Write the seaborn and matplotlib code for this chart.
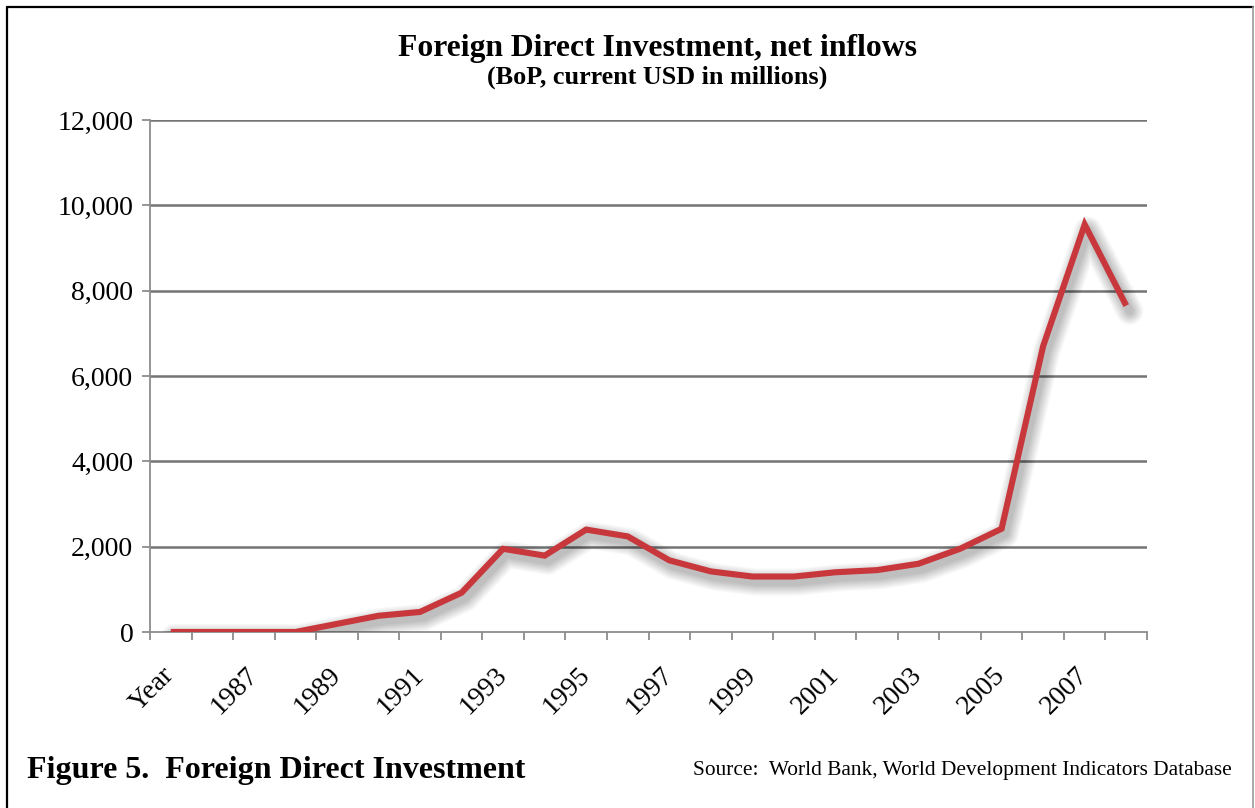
import numpy as np
import pandas as pd
import matplotlib
matplotlib.use("Agg")
import matplotlib.pyplot as plt
import matplotlib.patheffects as pe
from matplotlib.lines import Line2D
from matplotlib.ticker import FuncFormatter
import seaborn as sns

# Foreign direct investment, net inflows (BoP, current USD, millions)
categories = ["Year", "1986", "1987", "1988", "1989", "1990", "1991", "1992",
              "1993", "1994", "1995", "1996", "1997", "1998", "1999", "2000",
              "2001", "2002", "2003", "2004", "2005", "2006", "2007", "2008"]
fdi_millions = [0, 0, 0, 0, 190, 380, 470, 920,
                1950, 1790, 2400, 2240, 1680, 1420, 1300, 1300,
                1400, 1450, 1600, 1950, 2420, 6700, 9550, 7650]
y_ticks = [0, 2000, 4000, 6000, 8000, 10000, 12000]

df = pd.DataFrame({"year": categories, "fdi": fdi_millions})

sns.set_theme(style="white")
plt.rcParams["font.family"] = ["Liberation Serif", "DejaVu Serif"]
plt.rcParams["text.color"] = "black"
plt.rcParams["xtick.color"] = "black"
plt.rcParams["ytick.color"] = "black"

W, H = 1255, 808
fig = plt.figure(figsize=(W / 100, H / 100), dpi=100)
ax = fig.add_axes([150 / W, 1 - 632 / H, (1147 - 150) / W, (632 - 120) / H])

line_color = "#C8373B"
grid_color = "#747474"
axis_color = "#8c8c8c"

sns.lineplot(data=df, x="year", y="fdi", ax=ax, sort=False,
             color=line_color, linewidth=4.4, solid_joinstyle="miter",
             solid_capstyle="butt", zorder=5)

# soft drop shadow under the series line: many thin layers for a smooth falloff
widths = np.linspace(20, 5, 16)
shadow = [pe.SimpleLineShadow(offset=(2.5, -4), shadow_color="black",
                              alpha=0.016, linewidth=w,
                              capstyle="round", joinstyle="round")
          for w in widths]
for ln in ax.get_lines():
    ln.set_path_effects(shadow + [pe.Normal()])

ax.set_xlim(-0.5, len(categories) - 0.5)
ax.set_ylim(y_ticks[0], y_ticks[-1])
ax.set_yticks(y_ticks)
ax.yaxis.set_major_formatter(FuncFormatter(lambda v, _: f"{v:,.0f}"))

label_idx = list(range(0, len(categories), 2))
ax.set_xticks(label_idx)
ax.set_xticklabels([categories[i] for i in label_idx])
ax.set_xticks(np.arange(-0.5, len(categories), 1.0), minor=True)

ax.tick_params(axis="x", which="major", length=0, pad=28, labelsize=20,
               labelcolor="black")
ax.tick_params(axis="x", which="minor", length=6, width=1.3, color=axis_color,
               direction="out", bottom=True)
ax.tick_params(axis="y", which="major", length=6, width=1.3, color=axis_color,
               direction="out", left=True, pad=6, labelsize=20,
               labelcolor="black")
for lbl in ax.get_xticklabels():
    lbl.set_rotation(45)
    lbl.set_ha("right")
    lbl.set_va("center")
    lbl.set_rotation_mode("anchor")

ax.yaxis.grid(True, color=grid_color, linewidth=1.8, zorder=1)
ax.xaxis.grid(False)
ax.get_ygridlines()[0].set_visible(False)
ax.set_axisbelow(True)

for side in ["top", "right"]:
    ax.spines[side].set_visible(False)
for side in ["left", "bottom"]:
    ax.spines[side].set_color(axis_color)
    ax.spines[side].set_linewidth(1.3)
ax.set_xlabel("")
ax.set_ylabel("")
ax.set_facecolor("white")

# titles
fig.text(657 / W, 1 - 56 / H, "Foreign Direct Investment, net inflows",
         ha="center", va="baseline", fontsize=22.8, fontweight="bold")
fig.text(657 / W, 1 - 84 / H, "(BoP, current USD in millions)",
         ha="center", va="baseline", fontsize=18.8, fontweight="bold")

# caption and source
fig.text(27 / W, 1 - 778 / H, "Figure 5.  Foreign Direct Investment",
         ha="left", va="baseline", fontsize=23, fontweight="bold")
fig.text(1232 / W, 1 - 775 / H,
         "Source:  World Bank, World Development Indicators Database",
         ha="right", va="baseline", fontsize=15.4)

# frame around the figure
fig.add_artist(Line2D([7 / W, 7 / W], [0, 1 - 7 / H], color="black",
                      linewidth=1.6, transform=fig.transFigure))
fig.add_artist(Line2D([7 / W, 1253 / W], [1 - 7 / H, 1 - 7 / H], color="black",
                      linewidth=1.6, transform=fig.transFigure))
fig.add_artist(Line2D([1253 / W, 1253 / W], [0, 1 - 7 / H], color="#9a9a9a",
                      linewidth=1.2, transform=fig.transFigure))

fig.savefig("out.png", dpi=100, facecolor="white")
